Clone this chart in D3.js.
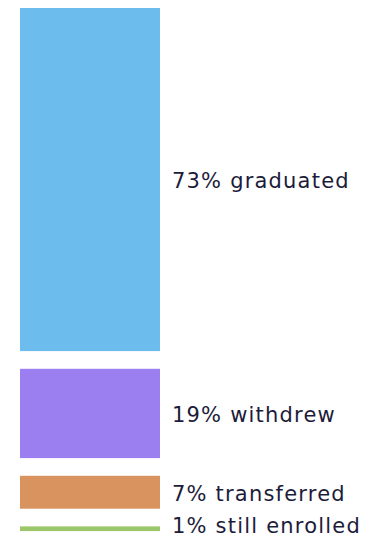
<!DOCTYPE html>
<html>
<head>
<meta charset="utf-8">
<script src="https://cdn.jsdelivr.net/npm/d3@7"></script>
<style>
  body { margin: 0; background: #fff; }
  svg { display: block; }
</style>
</head>
<body>
<script>
var categories = ['graduated', 'withdrew', 'transferred', 'still enrolled'];
var percents = [73, 19, 7, 1];
var colors = ['#6cbdee', '#9b7ff0', '#d9935f', '#9cc66a'];

var dim = {width: 365, height: 540},
    margins = {top: 8, left: 20},
    barWidth = 140,
    gap = 17.7;

var svg = d3.select('body')
  .append('svg')
  .attr('width', dim.width)
  .attr('height', dim.height);

// height of each block is proportional to the share
var hScale = d3.scaleLinear()
  .domain([0, 100])
  .range([0, 470]);

var rows = [];
var y0 = margins.top;
for (var i = 0; i < categories.length; i++) {
  var h = hScale(percents[i]);
  rows.push({name: categories[i], pct: percents[i], color: colors[i], y: y0, h: h});
  y0 += h + gap;
}

var g = svg.selectAll('g.row')
  .data(rows)
  .enter()
  .append('g')
  .attr('class', 'row');

g.append('rect')
  .attr('x', margins.left)
  .attr('y', function(d) { return d.y; })
  .attr('width', barWidth)
  .attr('height', function(d) { return d.h; })
  .attr('fill', function(d) { return d.color; });

g.append('text')
  .attr('x', margins.left + barWidth + 12)
  .attr('y', function(d, i) { return i === rows.length - 1 ? d.y + d.h / 2 - 3 : d.y + d.h / 2 + 1; })
  .attr('dy', '0.35em')
  .text(function(d) { return d.pct + '% ' + d.name; })
  .style('font-family', 'DejaVu Sans, sans-serif')
  .style('font-size', '21px')
  .style('letter-spacing', '1.2px')
  .style('fill', '#1c1c3a');
</script>
</body>
</html>
